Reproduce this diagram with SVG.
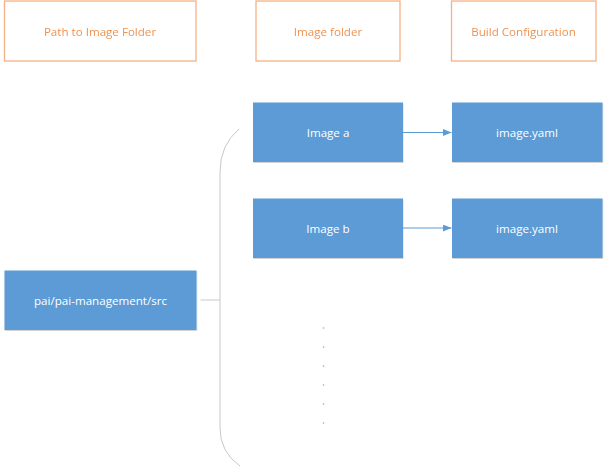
<svg xmlns="http://www.w3.org/2000/svg" width="608" height="472" viewBox="0 0 608 472">
  <style>
    .hdr { fill: #ffffff; stroke: #F4B183; stroke-width: 1.3; }
    .hdrt { fill: #ED7D31; font-family: "Open Sans", "Noto Sans", sans-serif; font-size: 11.6px; text-anchor: middle; dominant-baseline: central; opacity: 0.85; }
    .blue { fill: #5B9BD5; filter: url(#sh); }
    .bt { fill: #ffffff; font-family: "Open Sans", "Noto Sans", sans-serif; font-size: 11.6px; text-anchor: middle; dominant-baseline: central; }
    .arrow { stroke: #5B9BD5; stroke-width: 1; fill: none; marker-end: url(#ah); }
    .brk { stroke: #C8C8C8; stroke-width: 1; fill: none; }
    .dot { fill: #A6A6A6; }
  </style>
  <defs>
    <marker id="ah" viewBox="0 0 10 8" refX="10" refY="4" markerWidth="9" markerHeight="7" markerUnits="userSpaceOnUse" orient="auto">
      <path d="M0,0 L10,4 L0,8 Z" fill="#5B9BD5"/>
    </marker>
    <filter id="sh" x="-5%" y="-5%" width="110%" height="115%">
      <feDropShadow dx="0.5" dy="1" stdDeviation="0.6" flood-color="#7F7F7F" flood-opacity="0.35"/>
    </filter>
  </defs>

  <g id="hdr-path">
    <rect class="hdr" x="4.5" y="1" width="191.5" height="60"/>
    <text class="hdrt" x="100" y="31">Path to Image Folder</text>
  </g>
  <g id="hdr-folder">
    <rect class="hdr" x="256" y="1" width="144" height="60"/>
    <text class="hdrt" x="328" y="31">Image folder</text>
  </g>
  <g id="hdr-build">
    <rect class="hdr" x="451.5" y="1" width="144.5" height="60"/>
    <text class="hdrt" x="523.5" y="31">Build Configuration</text>
  </g>

  <g id="node-pai">
    <rect class="blue" x="4.5" y="270.5" width="192" height="59.5"/>
    <text class="bt" x="100.5" y="300">pai/pai-management/src</text>
  </g>
  <g id="node-image-a">
    <rect class="blue" x="253" y="102.5" width="150" height="59.5"/>
    <text class="bt" x="328" y="132.5">Image a</text>
  </g>
  <g id="node-yaml-a">
    <rect class="blue" x="452" y="102.5" width="150.5" height="59.5"/>
    <text class="bt" x="527" y="132.5">image.yaml</text>
  </g>
  <g id="node-image-b">
    <rect class="blue" x="253" y="198.5" width="150" height="59.5"/>
    <text class="bt" x="328" y="228">Image b</text>
  </g>
  <g id="node-yaml-b">
    <rect class="blue" x="452" y="198.5" width="150.5" height="59.5"/>
    <text class="bt" x="527" y="228">image.yaml</text>
  </g>

  <g id="ellipsis">
    <circle class="dot" cx="323.5" cy="328" r="0.8"/>
    <circle class="dot" cx="323.5" cy="347" r="0.8"/>
    <circle class="dot" cx="323.5" cy="366" r="0.8"/>
    <circle class="dot" cx="323.5" cy="385" r="0.8"/>
    <circle class="dot" cx="323.5" cy="404" r="0.8"/>
    <circle class="dot" cx="323.5" cy="423" r="0.8"/>
  </g>

  <g id="connectors">
    <path class="brk" d="M239,129 Q220,145 220,172 L220,428 Q220,452 240,466"/>
    <path class="brk" d="M200.5,300 L220,300"/>
    <path class="arrow" d="M403,132.5 L451.5,132.5"/>
    <path class="arrow" d="M403,228 L451.5,228"/>
  </g>
</svg>
